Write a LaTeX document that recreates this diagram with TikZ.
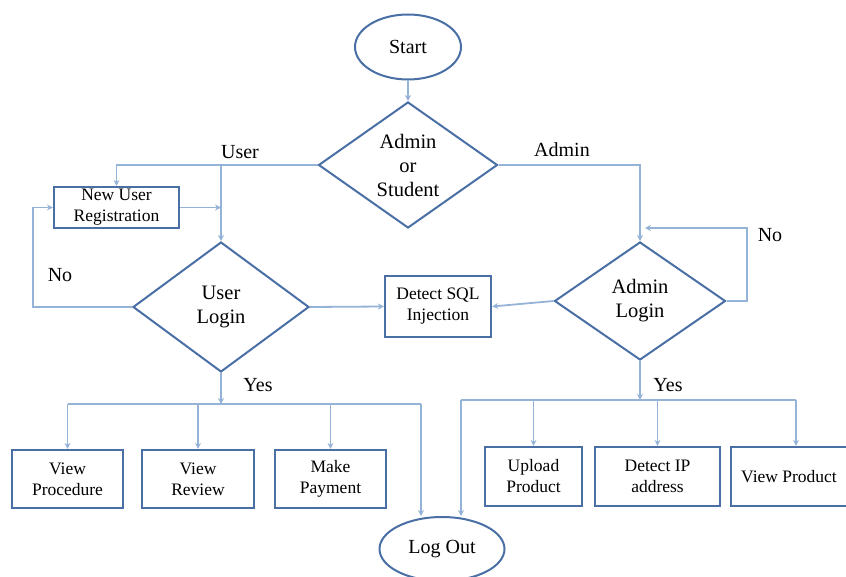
\documentclass[tikz,border=0pt]{standalone}
\usepackage{fontspec}
\setmainfont{Liberation Serif}
\usetikzlibrary{positioning}
\usetikzlibrary{arrows.meta}
\usetikzlibrary{shapes.geometric}
\definecolor{linkblue}{HTML}{95B3D7}
\definecolor{edgeblue}{HTML}{4A6FA5}

\tikzset{
  flowbox/.style={rectangle, draw=edgeblue, line width=2.2pt, inner sep=0pt, align=center, font=\fontsize{17.5}{21}\selectfont},
  choice/.style={diamond, draw=edgeblue, line width=2pt, inner sep=0pt, align=center, font=\fontsize{20.5}{24}\selectfont},
  terminal/.style={ellipse, draw=edgeblue, line width=2pt, inner sep=0pt, font=\fontsize{20}{23}\selectfont},
  link/.style={draw=linkblue, line width=1.8pt, -{Stealth[length=6pt,width=6pt]}},
  plain/.style={draw=linkblue, line width=1.8pt},
  tag/.style={font=\fontsize{20}{23}\selectfont},
}

\begin{document}
\begin{tikzpicture}[x=1pt, y=-1pt]
    \useasboundingbox (0,0) rectangle (846,577);

    \node[terminal, minimum width=106pt, minimum height=65pt] (start) at (408,47) {Start};
    \node[choice, minimum width=179pt, minimum height=126pt] (role) at (408,165) {Admin\\or\\Student};

    \node[flowbox, minimum width=125pt, minimum height=41pt] (newuser) at (116.5,207.5) {New User\\Registration};
    \node[choice, minimum width=176pt, minimum height=130pt] (userlogin) at (221,307) {User\\Login};
    \node[flowbox, minimum width=106pt, minimum height=61pt] (sqlcheck) at (438,306.5) {Detect SQL\\Injection};
    \node[choice, minimum width=171pt, minimum height=118pt] (adminlogin) at (640,301) {Admin\\Login};

    \node[flowbox, minimum width=111pt, minimum height=58pt] (vproc) at (67.5,479) {View\\Procedure};
    \node[flowbox, minimum width=112pt, minimum height=58pt] (vrev) at (198,479) {View\\Review};
    \node[flowbox, minimum width=111pt, minimum height=58pt] (pay) at (330.5,479) {Make\\Payment};

    \node[flowbox, minimum width=97pt, minimum height=59pt] (upload) at (533.5,476.5) {Upload\\Product};
    \node[flowbox, minimum width=125pt, minimum height=59pt] (ipcheck) at (657.5,476.5) {Detect IP\\address};
    \node[flowbox, minimum width=116pt, minimum height=59pt] (vprod) at (789,476.5) {View Product};

    \node[terminal, minimum width=125pt, minimum height=64pt] (logout) at (442,549) {Log Out};

    \node[tag] (userlbl) at (240,152) {User};
    \node[tag] (adminlbl) at (562,150) {Admin};
    \node[tag] (unolbl) at (60,275) {No};
    \node[tag] (anolbl) at (770,235) {No};
    \node[tag] (uyeslbl) at (258,385) {Yes};
    \node[tag] (ayeslbl) at (668,385) {Yes};

    % top part
    \draw[link] (start) -- (role);
    \draw[link] (role.west) -| (newuser.north);
    \coordinate (userfork) at (userlogin.north |- role.west);
    \draw[link] (userfork) -- (userlogin.north);
    \coordinate (regjoin) at (userlogin.north |- newuser.east);
    \draw[link] (newuser.east) -- (regjoin);
    \coordinate (userloop) at (33,307);
    \draw[link] (userlogin.west) -- (userloop) |- (newuser.west);
    \draw[link] (userlogin.east) -- (sqlcheck.west);

    \draw[link] (role.east) -| (adminlogin.north);
    \coordinate (adminloop) at (747,228);
    \coordinate (adminback) at (645,228);
    \draw[link] (adminlogin.east) -| (adminloop) -- (adminback);
    \draw[link] (adminlogin.west) -- (sqlcheck.east);

    % user side
    \coordinate (userbus) at (221,404);
    \coordinate (userbusL) at (vproc.north |- userbus);
    \coordinate (userbusR) at (421,404);
    \draw[link] (userlogin.south) -- (userbus);
    \draw[plain] (userbusL) -- (userbusR);
    \foreach \b in {vproc,vrev,pay}
        \draw[link] (\b.north |- userbus) -- (\b.north);
    \draw[link] (userbusR) -- (userbusR |- logout.north);

    % admin side
    \coordinate (adminbus) at (640,400);
    \coordinate (adminbusL) at (461,400);
    \coordinate (adminbusR) at (796,400);
    \draw[link] (adminlogin.south) -- (adminbus);
    \draw[plain] (adminbusL) -- (adminbusR);
    \foreach \b in {upload,ipcheck}
        \draw[link] (\b.north |- adminbus) -- (\b.north);
    \draw[link] (adminbusR) -- (adminbusR |- vprod.north);
    \draw[link] (adminbusL) -- (adminbusL |- logout.north);
\end{tikzpicture}
\end{document}
